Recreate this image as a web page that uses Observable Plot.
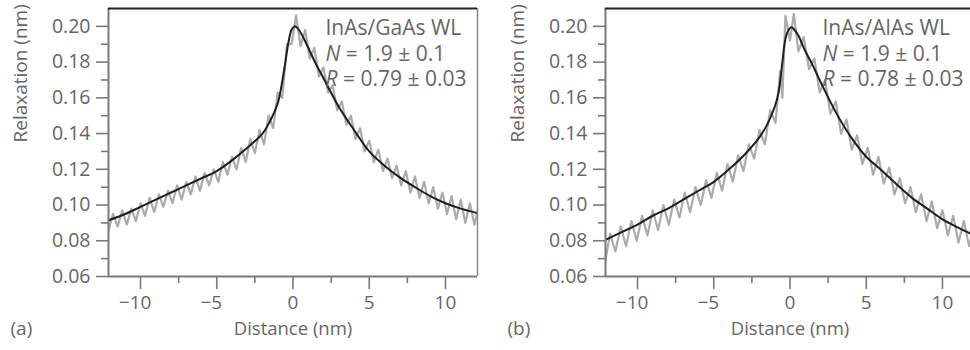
<!DOCTYPE html>
<html><head><meta charset="utf-8">
<script src="https://cdn.jsdelivr.net/npm/d3@7"></script>
<script src="https://cdn.jsdelivr.net/npm/@observablehq/plot@0.6"></script>
<style>
body{margin:0;background:#fff;}
#wrap{position:relative;width:970px;height:350px;overflow:hidden;background:#fff;}
#a{position:absolute;left:0;top:0;width:485px}
#b{position:absolute;left:485px;top:0;width:497px}
#wrap svg{max-width:none !important;display:block}
</style></head><body><div id="wrap"><div id="a"></div><div id="b"></div></div>
<script>
const xMajor = [-10, -5, 0, 5, 10];
const xMinor = [-7.5, -2.5, 2.5, 7.5];
const yMajor = [0.06, 0.08, 0.10, 0.12, 0.14, 0.16, 0.18, 0.20];
const yMinor = [0.07, 0.09, 0.11, 0.13, 0.15, 0.17, 0.19];
const xDomain = [-12.1, 12.1];
const yDomain = [0.06, 0.21];
const xLabel = "Distance (nm)";
const yLabel = "Relaxation (nm)";
const tags = ["(a)", "(b)"];
const annotA = ["InAs/GaAs WL", "N = 1.9 ± 0.1", "R = 0.79 ± 0.03"];
const annotB = ["InAs/AlAs WL", "N = 1.9 ± 0.1", "R = 0.78 ± 0.03"];

// (a) fit curve
const fitXa = [-12.1,-11,-10,-9,-8,-7,-6,-5,-4,-3,-2,-1.5,-1,-0.75,-0.5,-0.3,-0.1,0.1,0.3,0.6,1,1.5,2,3,4,5,6,7,8,9,10,11,12.1];
const fitYa = [0.0915,0.095,0.099,0.103,0.107,0.111,0.115,0.119,0.125,0.132,0.140,0.147,0.157,0.167,0.180,0.191,0.198,0.2,0.199,0.195,0.188,0.179,0.171,0.155,0.142,0.130,0.122,0.1155,0.110,0.105,0.101,0.098,0.0955];
// (a) measured profile
const rawXa = [-12.1,-11.8,-11.5,-11.2,-10.9,-10.6,-10.3,-10.0,-9.7,-9.4,-9.1,-8.8,-8.5,-8.2,-7.9,-7.6,-7.3,-7.0,-6.7,-6.4,-6.1,-5.8,-5.5,-5.2,-4.9,-4.6,-4.3,-4.0,-3.7,-3.4,-3.1,-2.8,-2.5,-2.2,-1.9,-1.6,-1.3,-1.0,-0.7,-0.4,-0.1,0.2,0.5,0.8,1.1,1.4,1.7,2.0,2.3,2.6,2.9,3.2,3.5,3.8,4.1,4.4,4.7,5.0,5.3,5.6,5.9,6.2,6.5,6.8,7.1,7.4,7.7,8.0,8.3,8.6,8.9,9.2,9.5,9.8,10.1,10.4,10.7,11.0,11.3,11.6,11.9,12.2];
const rawYa = [0.086,0.095,0.088,0.097,0.089,0.098,0.091,0.101,0.094,0.104,0.096,0.106,0.099,0.108,0.101,0.111,0.103,0.113,0.106,0.116,0.108,0.118,0.111,0.120,0.113,0.124,0.117,0.127,0.120,0.132,0.124,0.137,0.129,0.142,0.134,0.150,0.143,0.163,0.160,0.190,0.190,0.206,0.189,0.198,0.182,0.188,0.172,0.177,0.163,0.167,0.153,0.158,0.145,0.150,0.137,0.143,0.130,0.136,0.124,0.131,0.119,0.126,0.115,0.122,0.111,0.119,0.107,0.116,0.104,0.113,0.101,0.110,0.098,0.107,0.095,0.105,0.092,0.103,0.090,0.101,0.089,0.100];

// (b) fit curve
const fitXb = [-12.1,-11,-10,-9,-8,-7,-6,-5,-4,-3,-2,-1.5,-1,-0.75,-0.5,-0.3,-0.1,0.1,0.3,0.6,0.9,1.5,2,3,4,5,6,7,8,9,10,11,12.1];
const fitYb = [0.0805,0.085,0.089,0.094,0.098,0.103,0.108,0.113,0.120,0.128,0.138,0.145,0.155,0.163,0.180,0.193,0.198,0.1995,0.198,0.194,0.188,0.178,0.169,0.152,0.138,0.127,0.1195,0.1115,0.104,0.098,0.092,0.0875,0.083];
// (b) measured profile
const rawXb = [-12.15,-11.8,-11.45,-11.1,-10.75,-10.4,-10.05,-9.7,-9.35,-9.0,-8.65,-8.3,-7.95,-7.6,-7.25,-6.9,-6.55,-6.2,-5.85,-5.5,-5.15,-4.8,-4.45,-4.1,-3.75,-3.4,-3.05,-2.7,-2.35,-2.0,-1.65,-1.3,-0.95,-0.65,-0.5,-0.3,0.0,0.25,0.55,0.9,1.25,1.6,1.95,2.3,2.65,3.0,3.35,3.7,4.05,4.4,4.75,5.1,5.45,5.8,6.15,6.5,6.85,7.2,7.55,7.9,8.25,8.6,8.95,9.3,9.65,10.0,10.35,10.7,11.05,11.4,11.75,12.1];
const rawYb = [0.067,0.084,0.074,0.088,0.077,0.091,0.080,0.094,0.083,0.097,0.086,0.100,0.089,0.103,0.093,0.107,0.096,0.110,0.100,0.114,0.104,0.118,0.108,0.123,0.113,0.128,0.119,0.134,0.126,0.142,0.134,0.153,0.146,0.175,0.160,0.206,0.192,0.207,0.186,0.194,0.176,0.182,0.163,0.170,0.151,0.158,0.140,0.148,0.131,0.139,0.123,0.132,0.117,0.127,0.112,0.121,0.106,0.115,0.101,0.110,0.096,0.106,0.091,0.102,0.087,0.097,0.083,0.094,0.079,0.091,0.077,0.088];

const FONT = "'Open Sans', 'DejaVu Sans', sans-serif";
const TXT = "#666";
const AX = "#7a7a7a";

function xFmt(d) { return d < 0 ? "\u2212" + (-d) + "\u2007" : String(d); }

function panel({fitX, fitY, rawX, rawY, annot, tag, width, marginLeft}) {
  const fit = fitX.map((x, i) => ({x, y: fitY[i]}));
  const raw = rawX.map((x, i) => ({x, y: rawY[i]}));
  const svg = Plot.plot({
    width, height: 350,
    marginLeft, marginRight: width - marginLeft - 369, marginTop: 8, marginBottom: 74,
    x: {domain: xDomain, axis: null},
    y: {domain: yDomain, axis: null},
    style: {fontFamily: FONT, color: TXT, background: "#fff", overflow: "visible"},
    marks: [
      Plot.line(raw, {x: "x", y: "y", stroke: "#ababab", strokeWidth: 2.2, clip: true}),
      Plot.line(fit, {x: "x", y: "y", stroke: "#1e1e1e", strokeWidth: 2, curve: "catmull-rom", clip: true}),
      Plot.axisY({ticks: yMajor, tickSize: 12, tickPadding: 6, tickFormat: d3.format(".2f"), fontSize: 19.5, stroke: AX, strokeWidth: 1.6, fill: TXT, label: null}),
      Plot.axisY({ticks: yMinor, tickSize: 7, tickFormat: () => "", stroke: AX, strokeWidth: 1.6, label: null}),
      Plot.axisX({ticks: xMajor, tickSize: 13, tickPadding: 6, tickFormat: xFmt, fontSize: 19, stroke: AX, strokeWidth: 1.6, fill: TXT, label: null}),
      Plot.axisX({ticks: xMinor, tickSize: 7, tickFormat: () => "", stroke: AX, strokeWidth: 1.6, label: null}),
      Plot.ruleX([xDomain[0]], {stroke: AX, strokeWidth: 2}),
      Plot.ruleX([xDomain[1]], {stroke: "#888", strokeWidth: 1.5}),
      Plot.ruleY([yDomain[0]], {stroke: AX, strokeWidth: 2}),
      Plot.ruleY([yDomain[1]], {stroke: "#222", strokeWidth: 1.8}),
      Plot.text([yLabel], {text: d => d, frameAnchor: "left", rotate: -90, dx: -88, fontSize: 19, fill: TXT}),
      Plot.text([xLabel], {text: d => d, frameAnchor: "bottom", dy: 58, fontSize: 18.5, fill: TXT}),
      Plot.text([tag], {text: d => d, frameAnchor: "bottom-left", textAnchor: "start", dx: -98, dy: 58, fontSize: 19, fill: TXT}),
      Plot.text([annot.join("\n")], {text: d => d, frameAnchor: "top-left", textAnchor: "start", lineAnchor: "top", dx: 217, dy: 9, fontSize: 21, lineHeight: 1.2, fill: TXT})
    ]
  });
  // italic variable names
  d3.select(svg).selectAll("tspan").each(function() {
    const t = this.textContent;
    if (/^[NR] =/.test(t)) {
      const it = document.createElementNS("http://www.w3.org/2000/svg", "tspan");
      it.setAttribute("font-style", "italic");
      it.textContent = t[0];
      this.textContent = t.slice(1);
      this.insertBefore(it, this.firstChild);
    }
  });
  return svg;
}

document.getElementById("a").appendChild(panel({fitX: fitXa, fitY: fitYa, rawX: rawXa, rawY: rawYa, annot: annotA, tag: tags[0], width: 485, marginLeft: 108}));
document.getElementById("b").appendChild(panel({fitX: fitXb, fitY: fitYb, rawX: rawXb, rawY: rawYb, annot: annotB, tag: tags[1], width: 497, marginLeft: 120}));
</script></body></html>
